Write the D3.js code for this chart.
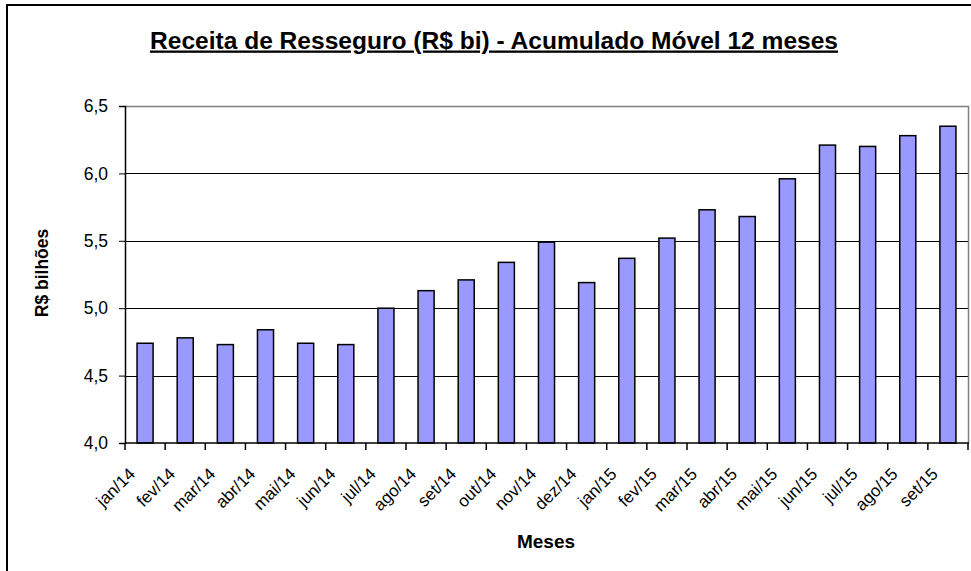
<!DOCTYPE html>
<head>
  <meta charset="utf-8">
  <script src="https://d3js.org/d3.v7.min.js"></script>
  <style>
    body { margin:0; background:#fff; }
    text { font-family: "Liberation Sans", Arial, sans-serif; fill:#000; }
  </style>
</head>
<body>
<script>
  // months + values (R$ bi, acumulado 12 meses)
  var meses = ["jan/14","fev/14","mar/14","abr/14","mai/14","jun/14","jul/14","ago/14","set/14","out/14","nov/14","dez/14",
               "jan/15","fev/15","mar/15","abr/15","mai/15","jun/15","jul/15","ago/15","set/15"];
  var receita = [4.74,4.78,4.73,4.84,4.74,4.73,5.00,5.13,5.21,5.34,5.49,5.19,
                 5.37,5.52,5.73,5.68,5.96,6.21,6.20,6.28,6.35];
  var yTicks = [4.0,4.5,5.0,5.5,6.0,6.5];

  var width = 971, height = 571;
  var m = {left:125, right:3, top:106, bottom:128};

  var svg = d3.select("body").append("svg")
    .attr("width", width)
    .attr("height", height);

  // outer chart frame (runs off the right/bottom like the original)
  svg.append("rect")
    .attr("x", 7).attr("y", 5)
    .attr("width", 980).attr("height", 580)
    .attr("fill", "none").attr("stroke", "#000").attr("stroke-width", 2);

  var x = d3.scaleBand().domain(meses)
    .range([m.left, width - m.right])
    .paddingInner(0.6).paddingOuter(0.3);
  var y = d3.scaleLinear().domain([4, 6.5]).range([height - m.bottom, m.top]);

  var fmt = function(d) { return d3.format(".1f")(d).replace(".", ","); };

  // gridlines
  svg.append("g").selectAll("line").data(yTicks.slice(1, -1)).enter().append("line")
    .attr("x1", m.left).attr("x2", width - m.right)
    .attr("y1", function(d){ return Math.round(y(d)) + 0.5; })
    .attr("y2", function(d){ return Math.round(y(d)) + 0.5; })
    .attr("stroke", "#000").attr("stroke-width", 1);

  // plot area border (grey top/right)
  svg.append("path")
    .attr("d", "M" + m.left + "," + (Math.round(y(6.5)) + 0.5) + "H" + (width - m.right + 0.5) + "V" + y(4))
    .attr("fill", "none").attr("stroke", "#808080").attr("stroke-width", 1.5);

  // bars
  svg.append("g").selectAll("rect").data(receita).enter().append("rect")
    .attr("x", function(d, i){ return x(meses[i]); })
    .attr("width", x.bandwidth())
    .attr("y", function(d){ return y(d); })
    .attr("height", function(d){ return y(4) - y(d); })
    .attr("fill", "#9999ff")
    .attr("stroke", "#000").attr("stroke-width", 1.5);

  // y axis
  var yAxis = svg.append("g")
    .attr("transform", "translate(" + m.left + ",0)")
    .call(d3.axisLeft(y).tickValues(yTicks).tickFormat(fmt).tickSize(6).tickPadding(11));
  yAxis.select(".domain").attr("stroke-width", 1.5);
  yAxis.selectAll("text").style("font-size", "17.5px").attr("font-family", null);

  // x axis: ticks between categories
  var step = x.step();
  var xg = svg.append("g");
  xg.append("line")
    .attr("x1", m.left).attr("x2", width - m.right + 1)
    .attr("y1", y(4)).attr("y2", y(4))
    .attr("stroke", "#000").attr("stroke-width", 1.5);
  xg.selectAll("line.tk").data(d3.range(meses.length + 1)).enter().append("line")
    .attr("class", "tk")
    .attr("x1", function(i){ return m.left + i * step; })
    .attr("x2", function(i){ return m.left + i * step; })
    .attr("y1", y(4)).attr("y2", y(4) + 7)
    .attr("stroke", "#000").attr("stroke-width", 1.5);
  xg.selectAll("text").data(meses).enter().append("text")
    .attr("transform", function(d){
      var cx = x(d) + x.bandwidth() / 2 - 9;
      return "translate(" + cx + "," + (y(4) + 32) + ")rotate(-45)";
    })
    .attr("text-anchor", "end")
    .style("font-size", "17px")
    .text(function(d){ return d; });

  // title
  svg.append("text")
    .attr("x", 494).attr("y", 48.5)
    .attr("text-anchor", "middle")
    .attr("textLength", 688).attr("lengthAdjust", "spacingAndGlyphs")
    .style("font-size", "23px").style("font-weight", "bold")
    .style("text-decoration", "underline")
    .text("Receita de Resseguro (R$ bi) - Acumulado Móvel 12 meses");

  // axis titles
  svg.append("text")
    .attr("transform", "translate(48,273)rotate(-90)")
    .attr("text-anchor", "middle")
    .style("font-size", "17.5px").style("font-weight", "bold")
    .text("R$ bilhões");
  svg.append("text")
    .attr("x", 546).attr("y", 548)
    .attr("text-anchor", "middle")
    .style("font-size", "19px").style("font-weight", "bold")
    .text("Meses");
</script>
</body>
</html>
